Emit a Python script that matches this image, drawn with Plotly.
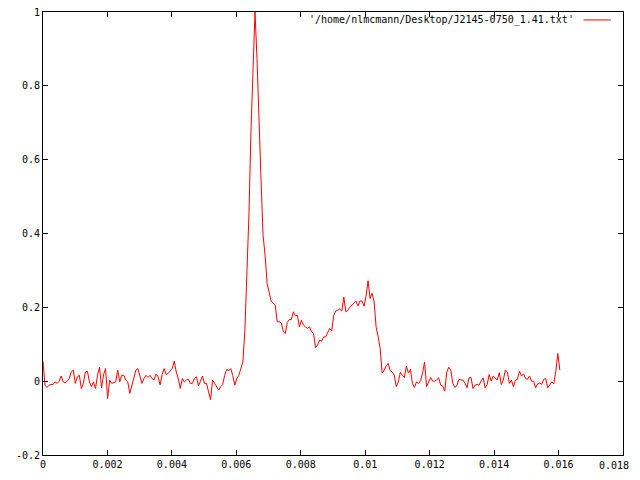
import numpy as np
import plotly.graph_objects as go

# Pulse profile (257 samples, 0 .. 0.01604 s)
t_end = 0.01604
intensity = [
    0.054, -0.011, -0.017, -0.011, -0.009, -0.009, -0.002, -0.006, 0.000, 0.014,
    -0.002, -0.004, 0.000, 0.007, 0.025, 0.030, -0.006, 0.012, 0.016, -0.020,
    -0.006, 0.025, 0.027, -0.002, -0.015, -0.002, -0.020, 0.016, 0.038, -0.018,
    0.018, 0.034, -0.047, 0.003, -0.006, -0.004, -0.002, 0.030, -0.002, 0.016,
    0.016, 0.003, -0.002, -0.033, -0.011, 0.014, 0.030, 0.034, 0.016, -0.006,
    0.007, 0.016, 0.010, 0.016, 0.007, 0.003, 0.019, 0.012, -0.010, 0.018,
    0.034, 0.018, 0.021, 0.027, 0.034,
    0.054, 0.025, 0.007, -0.020, 0.007, -0.002, 0.003, 0.005, -0.006, -0.006,
    0.007, 0.012, -0.013, 0.003, 0.014, -0.006, -0.006, -0.029, -0.050, 0.003,
    -0.006, -0.015, -0.024, -0.015, -0.009, 0.016, 0.032, 0.028, 0.034,
    0.015,
    -0.011, 0.007, 0.016, 0.034, 0.052, 0.138, 0.279, 0.450, 0.675, 0.865, 1.000,
    0.874, 0.675, 0.545, 0.395, 0.341, 0.265, 0.240, 0.217, 0.212, 0.206,
    0.161, 0.161, 0.158, 0.135, 0.129, 0.159, 0.167, 0.167, 0.188, 0.177,
    0.179, 0.147, 0.165, 0.152, 0.147, 0.143, 0.147, 0.134, 0.129, 0.091,
    0.098, 0.111, 0.108, 0.120, 0.120, 0.131, 0.143, 0.136, 0.179, 0.190,
    0.192, 0.195, 0.190, 0.228, 0.188, 0.192, 0.200, 0.206, 0.210, 0.217,
    0.204, 0.217, 0.217, 0.203, 0.230, 0.272, 0.224, 0.238, 0.215, 0.147,
    0.120, 0.088, 0.022, 0.030, 0.042, 0.048, 0.028, 0.025, 0.016, -0.015,
    -0.002, 0.024, 0.016, 0.010, 0.041, 0.022, 0.032, -0.006, -0.017, -0.002,
    -0.006, 0.001, 0.022, 0.052, -0.015, -0.004, 0.010, 0.000, 0.000, 0.004,
    0.009, -0.011, -0.013, -0.027, 0.025, 0.038, 0.029, -0.006, -0.017, -0.011,
    0.005, 0.003, 0.003, -0.006, -0.018, 0.009, 0.010, -0.020, -0.011, -0.009,
    -0.011, 0.001, 0.009, -0.018, -0.009, 0.018, 0.000, 0.014, 0.009, 0.003,
    0.023, -0.009, 0.003, 0.030, 0.025, -0.006, 0.003, -0.015, 0.003, 0.005,
    0.027, 0.014, 0.020, 0.007, 0.005, 0.014, 0.000, 0.000, -0.018, -0.007,
    -0.005, -0.009, 0.005, 0.007, -0.018, -0.011, -0.002, -0.007, 0.027, 0.075,
    0.030,
]
time = np.linspace(0, t_end, len(intensity))

x_ticks = [0, 0.002, 0.004, 0.006, 0.008, 0.01, 0.012, 0.014, 0.016, 0.018]
x_labels = ["0", "0.002", "0.004", "0.006", "0.008", "0.01", "0.012", "0.014", "0.016", "0.018"]
y_ticks = [-0.2, 0, 0.2, 0.4, 0.6, 0.8, 1]
y_labels = ["-0.2", "0", "0.2", "0.4", "0.6", "0.8", "1"]
legend_label = "'/home/nlmcmann/Desktop/J2145-0750_1.41.txt'"

font = dict(family="DejaVu Sans Mono", size=10, color="black")

fig = go.Figure()
fig.add_trace(go.Scatter(x=time, y=intensity, mode="lines",
                         line=dict(color="#ff0000", width=1),
                         showlegend=False, hoverinfo="skip"))

axis_common = dict(showline=True, linecolor="black", linewidth=1, mirror="allticks",
                   ticks="inside", ticklen=5, tickcolor="black", tickwidth=1,
                   showgrid=False, zeroline=False, tickfont=font, automargin=False,
                   ticklabeloverflow="allow")

# last x label is drawn as an annotation so it is not cut at the page edge
fig.update_xaxes(range=[0, 0.018], tickvals=x_ticks,
                 ticktext=x_labels[:-1] + [""], **axis_common)
fig.update_yaxes(range=[-0.2, 1], tickvals=y_ticks, ticktext=y_labels, **axis_common)

fig.add_annotation(xref="paper", yref="paper", x=1, y=0, xanchor="right",
                   yanchor="top", xshift=8, yshift=-3, text=x_labels[-1],
                   showarrow=False, font=font)

fig.add_annotation(xref="paper", yref="paper", x=0.919, y=0.982,
                   xanchor="right", yanchor="middle", text=legend_label,
                   showarrow=False, font=font)
fig.add_shape(type="line", xref="paper", yref="paper", x0=0.932, x1=0.979,
              y0=0.982, y1=0.982, line=dict(color="#ff0000", width=1))

# the page body adds an 8px offset, so size and margins compensate for it
fig.update_layout(width=624, height=464, plot_bgcolor="white", paper_bgcolor="white",
                  margin=dict(l=35, r=9, t=4, b=17), font=font)

fig.write_html("out.html")
